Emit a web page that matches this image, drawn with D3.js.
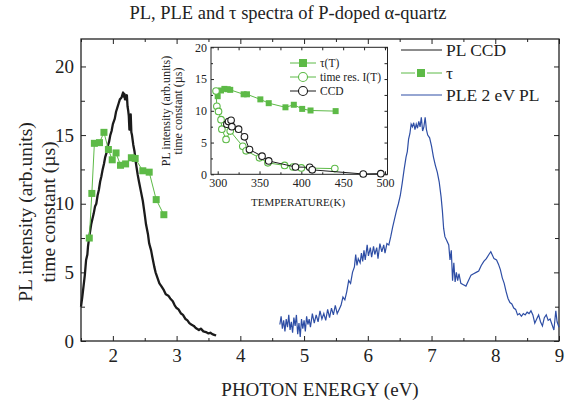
<!DOCTYPE html>
<html>
<head>
<meta charset="utf-8">
<script src="https://cdn.jsdelivr.net/npm/d3@7"></script>
<style>
  body { margin: 0; background: #fff; }
  text { font-family: "Liberation Serif", "Times New Roman", serif; fill: #222; }
</style>
</head>
<body>
<svg id="chart" width="565" height="400"></svg>
<script>
// ---- data ----
// PL CCD spectrum (eV, arb. units)
const plX = [1.50,1.52,1.53,1.55,1.56,1.58,1.60,1.61,1.63,1.64,1.66,1.67,1.70,1.72,1.74,1.76,1.78,1.80,1.82,1.84,1.86,1.88,1.90,1.92,1.94,1.96,1.98,2.00,2.03,2.05,2.07,2.09,2.11,2.13,2.14,2.16,2.17,2.18,2.19,2.20,2.21,2.22,2.23,2.24,2.25,2.26,2.27,2.28,2.29,2.30,2.32,2.34,2.36,2.39,2.41,2.44,2.47,2.50,2.52,2.55,2.57,2.60,2.62,2.65,2.67,2.70,2.73,2.76,2.80,2.83,2.87,2.90,2.94,2.97,3.00,3.03,3.07,3.10,3.14,3.17,3.20,3.23,3.27,3.30,3.35,3.38,3.42,3.46,3.50,3.53,3.56,3.59,3.62];
const plY = [2.5,3.2,3.6,4.4,4.8,5.9,6.3,6.9,7.6,7.9,8.5,8.7,9.3,9.8,10.0,10.6,11.0,11.6,12.0,12.5,12.9,13.4,13.7,14.2,14.5,15.0,15.3,15.8,16.2,16.7,17.0,17.3,17.6,17.7,17.8,18.1,17.8,18.0,17.6,17.9,17.6,17.9,17.1,16.8,16.4,15.4,16.2,16.5,15.2,15.0,14.3,13.8,13.0,12.1,11.6,10.9,10.2,9.2,8.5,7.8,7.1,6.6,6.1,5.4,5.0,4.6,4.2,4.0,3.7,3.4,3.3,3.1,2.9,2.6,2.4,2.3,2.0,1.9,1.6,1.5,1.3,1.2,1.1,0.95,0.8,0.9,0.7,0.65,0.55,0.6,0.5,0.45,0.4];

// tau vs photon energy (eV, microseconds)
const tauX = [1.63,1.67,1.71,1.79,1.86,1.93,1.99,2.05,2.12,2.20,2.29,2.35,2.47,2.57,2.68,2.80];
const tauY = [7.5,10.75,14.4,14.45,15.2,13.95,13.2,13.7,12.8,12.9,13.35,13.3,12.4,12.3,10.3,9.2];

// PLE of the 2 eV PL (eV, arb. units)
const pleX = [4.62,4.64,4.66,4.68,4.70,4.72,4.74,4.76,4.78,4.80,4.82,4.84,4.86,4.88,4.90,4.92,4.94,4.96,4.98,5.00,5.02,5.04,5.06,5.08,5.10,5.13,5.16,5.19,5.22,5.25,5.28,5.31,5.34,5.37,5.40,5.43,5.46,5.49,5.52,5.55,5.58,5.61,5.64,5.67,5.70,5.73,5.76,5.79,5.81,5.83,5.85,5.88,5.90,5.92,5.94,5.96,5.99,6.01,6.04,6.06,6.09,6.11,6.14,6.16,6.19,6.22,6.25,6.27,6.30,6.33,6.36,6.39,6.42,6.45,6.48,6.51,6.54,6.57,6.60,6.62,6.64,6.66,6.68,6.70,6.72,6.74,6.76,6.78,6.80,6.82,6.84,6.86,6.88,6.90,6.92,6.94,6.97,7.00,7.03,7.06,7.09,7.12,7.15,7.17,7.19,7.21,7.24,7.27,7.29,7.31,7.33,7.35,7.37,7.39,7.41,7.43,7.46,7.50,7.54,7.58,7.62,7.66,7.70,7.74,7.78,7.82,7.86,7.90,7.93,7.95,7.98,8.02,8.05,8.08,8.11,8.14,8.17,8.20,8.23,8.26,8.29,8.32,8.35,8.38,8.41,8.44,8.47,8.50,8.53,8.56,8.59,8.62,8.65,8.68,8.71,8.74,8.77,8.80,8.83,8.86,8.89,8.92,8.95,8.97,9.00];
const pleY = [1.2,1.8,0.9,1.5,0.7,1.6,1.0,1.9,0.8,1.4,0.6,1.7,1.1,1.9,0.5,1.3,0.3,1.6,0.9,1.5,0.7,1.8,1.2,1.6,1.0,2.0,1.3,1.9,1.4,2.2,1.6,2.0,1.5,2.3,1.7,2.4,1.9,2.6,2.0,2.3,2.6,3.2,3.0,3.6,4.4,4.2,5.0,5.4,6.3,5.5,6.0,5.7,6.4,5.8,6.6,5.9,7.0,6.2,6.8,6.1,6.9,6.3,6.8,6.0,7.1,6.5,7.0,6.4,7.1,7.0,7.6,8.3,8.9,9.5,10.0,10.6,11.5,12.5,13.4,13.8,14.7,15.1,15.8,15.6,15.9,15.4,15.8,15.5,16.0,15.6,16.3,15.3,15.6,16.3,15.4,15.0,14.8,14.2,13.4,12.8,12.3,11.6,10.5,9.5,8.2,7.6,7.3,7.0,5.9,6.6,4.4,5.7,4.3,5.0,4.4,4.9,4.2,4.1,4.0,4.4,4.8,4.9,5.0,5.1,5.5,5.8,6.0,6.3,6.5,6.3,6.0,5.9,5.6,5.2,4.6,4.2,3.6,3.1,2.8,2.7,2.4,2.3,1.9,2.0,1.8,2.0,1.9,2.1,2.0,2.2,1.9,1.3,1.6,1.9,1.4,1.1,1.7,1.9,1.5,1.6,1.2,0.8,2.2,1.4,1.0];

// inset: temperature dependence (K)
const insTauT = [300,304,308,312,315,331,335,351,361,381,391,401,411,441];
const insTauV = [12.3,13.2,13.45,13.4,13.3,12.6,12.6,11.8,11.2,10.55,10.95,10.3,10.05,9.95];
const insResT = [298,299,301,304,305,310,315,330,334,350,360,380,390,400,440];
const insResV = [13.1,10.7,9.9,8.6,7.1,5.5,6.8,4.4,3.7,2.6,1.8,1.4,1.15,1.0,0.9];
const insCcdT = [311,313,316,317,325,332,338,353,361,393,410,413,474,495];
const insCcdV = [7.9,8.3,8.5,7.5,7.1,5.9,3.9,2.85,2.1,1.15,1.1,0.7,0.05,0.1];

// tick labels
const xTicks = [2,3,4,5,6,7,8,9];
const yTicks = [0,5,10,15,20];
const insXTicks = [300,350,400,450,500];
const insYTicks = [0,5,10,15,20];

const GREEN = "#5dba47", BLUE = "#2e4ea5", BLACK = "#1b1b1b";

const svg = d3.select("#chart");
svg.append("rect").attr("width", 565).attr("height", 400).attr("fill", "#fff");

// ---- main plot ----
const x = d3.scaleLinear().domain([1.5, 9]).range([81, 559]);
const y = d3.scaleLinear().domain([0, 22]).range([341, 39]);

const xMinor = d3.range(1.5, 9.01, 0.5).filter(d => d % 1 !== 0);
const yMinor = d3.range(2.5, 22, 5);

function styleAxis(g, size) {
  g.select(".domain").remove();
  g.selectAll("line").attr("stroke", "#222").attr("stroke-width", 1);
  g.selectAll("text").style("font-size", size + "px")
    .style("font-family", '"Liberation Serif", serif').attr("fill", "#222");
}

svg.append("g").attr("transform", "translate(0,341)")
  .call(d3.axisBottom(x).tickValues(xTicks).tickSize(-5).tickPadding(8).tickFormat(d3.format("d")))
  .call(g => styleAxis(g, 19));
svg.append("g").attr("transform", "translate(0,341)")
  .call(d3.axisBottom(x).tickValues(xMinor).tickSize(-3).tickFormat(""))
  .call(g => styleAxis(g, 19));
svg.append("g").attr("transform", "translate(0,39)")
  .call(d3.axisTop(x).tickValues(xTicks).tickSize(-5).tickFormat(""))
  .call(g => styleAxis(g, 19));
svg.append("g").attr("transform", "translate(0,39)")
  .call(d3.axisTop(x).tickValues(xMinor).tickSize(-3).tickFormat(""))
  .call(g => styleAxis(g, 19));
svg.append("g").attr("transform", "translate(81,0)")
  .call(d3.axisLeft(y).tickValues(yTicks).tickSize(-5).tickPadding(7).tickFormat(d3.format("d")))
  .call(g => styleAxis(g, 19));
svg.append("g").attr("transform", "translate(81,0)")
  .call(d3.axisLeft(y).tickValues(yMinor).tickSize(-4).tickFormat(""))
  .call(g => styleAxis(g, 19));
svg.append("g").attr("transform", "translate(559,0)")
  .call(d3.axisRight(y).tickValues(yTicks).tickSize(-5).tickFormat(""))
  .call(g => styleAxis(g, 19));
svg.append("g").attr("transform", "translate(559,0)")
  .call(d3.axisRight(y).tickValues(yMinor).tickSize(-4).tickFormat(""))
  .call(g => styleAxis(g, 19));

svg.append("rect").attr("x", 81).attr("y", 39).attr("width", 478).attr("height", 302)
  .attr("fill", "none").attr("stroke", "#222").attr("stroke-width", 1.3);

const line = d3.line().x(d => x(d[0])).y(d => y(d[1]));

svg.append("path").datum(d3.zip(plX, plY)).attr("d", line)
  .attr("fill", "none").attr("stroke", BLACK).attr("stroke-width", 2.3).attr("stroke-linejoin", "round");
svg.append("path").datum(d3.zip(pleX, pleY)).attr("d", line)
  .attr("fill", "none").attr("stroke", BLUE).attr("stroke-width", 1.2);
svg.append("path").datum(d3.zip(tauX, tauY)).attr("d", line)
  .attr("fill", "none").attr("stroke", GREEN).attr("stroke-width", 1);
svg.append("g").selectAll("rect").data(d3.zip(tauX, tauY)).enter().append("rect")
  .attr("x", d => x(d[0]) - 3.5).attr("y", d => y(d[1]) - 3.5)
  .attr("width", 7).attr("height", 7).attr("fill", GREEN);

// main legend
const leg = svg.append("g");
leg.append("line").attr("x1", 401).attr("x2", 442).attr("y1", 50).attr("y2", 50).attr("stroke", BLACK).attr("stroke-width", 1);
leg.append("line").attr("x1", 401).attr("x2", 415).attr("y1", 73).attr("y2", 73).attr("stroke", GREEN).attr("stroke-width", 1);
leg.append("line").attr("x1", 427).attr("x2", 442).attr("y1", 73).attr("y2", 73).attr("stroke", GREEN).attr("stroke-width", 1);
leg.append("rect").attr("x", 417).attr("y", 69).attr("width", 8).attr("height", 8).attr("fill", GREEN);
leg.append("line").attr("x1", 401).attr("x2", 442).attr("y1", 95).attr("y2", 95).attr("stroke", BLUE).attr("stroke-width", 1.2);
leg.selectAll("text").data(["PL CCD", "τ", "PLE 2 eV PL"]).enter().append("text")
  .attr("x", 446).attr("y", (d, i) => [50, 73, 95][i]).attr("dy", "0.35em")
  .style("font-size", "17.5px").text(d => d);

// titles
svg.append("text").attr("x", 288).attr("y", 19).attr("text-anchor", "middle")
  .style("font-size", "18.5px").text("PL, PLE and τ spectra of P-doped α-quartz");
svg.append("text").attr("x", 320).attr("y", 396).attr("text-anchor", "middle")
  .style("font-size", "19px").text("PHOTON ENERGY (eV)");
svg.append("text").attr("transform", "translate(25,212) rotate(-90)").attr("text-anchor", "middle")
  .attr("dy", "0.35em").style("font-size", "19.5px").text("PL intensity (arb.units)");
svg.append("text").attr("transform", "translate(48,212) rotate(-90)").attr("text-anchor", "middle")
  .attr("dy", "0.35em").style("font-size", "19.5px").text("time constant (µs)");

// ---- inset ----
const ix = d3.scaleLinear().domain([292, 503]).range([211, 387.5]);
const iy = d3.scaleLinear().domain([0, 20]).range([174.3, 47.3]);
const ixMinor = [325, 375, 425, 475];
const iyMinor = [2.5, 7.5, 12.5, 17.5];

svg.append("rect").attr("x", 211).attr("y", 47.3).attr("width", 176.5).attr("height", 127)
  .attr("fill", "#fff");

svg.append("g").attr("transform", "translate(0,174.3)")
  .call(d3.axisBottom(ix).tickValues(insXTicks).tickSize(-3).tickPadding(4).tickFormat(d3.format("d")))
  .call(g => styleAxis(g, 12));
svg.append("g").attr("transform", "translate(0,174.3)")
  .call(d3.axisBottom(ix).tickValues(ixMinor).tickSize(-2).tickFormat(""))
  .call(g => styleAxis(g, 12));
svg.append("g").attr("transform", "translate(0,47.3)")
  .call(d3.axisTop(ix).tickValues(insXTicks.concat(ixMinor)).tickSize(-3).tickFormat(""))
  .call(g => styleAxis(g, 12));
svg.append("g").attr("transform", "translate(211,0)")
  .call(d3.axisLeft(iy).tickValues(insYTicks).tickSize(-3).tickPadding(4).tickFormat(d3.format("d")))
  .call(g => styleAxis(g, 12));
svg.append("g").attr("transform", "translate(211,0)")
  .call(d3.axisLeft(iy).tickValues(iyMinor).tickSize(-2).tickFormat(""))
  .call(g => styleAxis(g, 12));
svg.append("g").attr("transform", "translate(387.5,0)")
  .call(d3.axisRight(iy).tickValues(insYTicks.concat(iyMinor)).tickSize(-3).tickFormat(""))
  .call(g => styleAxis(g, 12));

svg.append("rect").attr("x", 211).attr("y", 47.3).attr("width", 176.5).attr("height", 127)
  .attr("fill", "none").attr("stroke", "#222").attr("stroke-width", 1);

const iline = d3.line().x(d => ix(d[0])).y(d => iy(d[1]));

svg.append("path").datum(d3.zip(insTauT, insTauV)).attr("d", iline)
  .attr("fill", "none").attr("stroke", GREEN).attr("stroke-width", 1);
svg.append("g").selectAll("rect").data(d3.zip(insTauT, insTauV)).enter().append("rect")
  .attr("x", d => ix(d[0]) - 3).attr("y", d => iy(d[1]) - 3)
  .attr("width", 6).attr("height", 6).attr("fill", GREEN);

svg.append("path").datum(d3.zip(insResT, insResV)).attr("d", iline)
  .attr("fill", "none").attr("stroke", GREEN).attr("stroke-width", 1);
svg.append("g").selectAll("circle").data(d3.zip(insResT, insResV)).enter().append("circle")
  .attr("cx", d => ix(d[0])).attr("cy", d => iy(d[1])).attr("r", 3.3)
  .attr("fill", "#fff").attr("stroke", GREEN).attr("stroke-width", 1.1);

svg.append("path").datum(d3.zip(insCcdT, insCcdV)).attr("d", iline)
  .attr("fill", "none").attr("stroke", BLACK).attr("stroke-width", 1);
svg.append("g").selectAll("circle").data(d3.zip(insCcdT, insCcdV)).enter().append("circle")
  .attr("cx", d => ix(d[0])).attr("cy", d => iy(d[1])).attr("r", 3.3)
  .attr("fill", "#fff").attr("stroke", BLACK).attr("stroke-width", 1.1);

// inset legend
const ileg = svg.append("g");
const rowsY = [63, 77, 91];
ileg.append("line").attr("x1", 290).attr("x2", 316).attr("y1", rowsY[0]).attr("y2", rowsY[0]).attr("stroke", GREEN);
ileg.append("rect").attr("x", 299).attr("y", rowsY[0] - 4).attr("width", 8).attr("height", 8).attr("fill", GREEN);
ileg.append("line").attr("x1", 290).attr("x2", 316).attr("y1", rowsY[1]).attr("y2", rowsY[1]).attr("stroke", GREEN);
ileg.append("circle").attr("cx", 303).attr("cy", rowsY[1]).attr("r", 4.5).attr("fill", "#fff").attr("stroke", GREEN).attr("stroke-width", 1.1);
ileg.append("line").attr("x1", 290).attr("x2", 316).attr("y1", rowsY[2]).attr("y2", rowsY[2]).attr("stroke", BLACK);
ileg.append("circle").attr("cx", 303).attr("cy", rowsY[2]).attr("r", 4.5).attr("fill", "#fff").attr("stroke", BLACK).attr("stroke-width", 1.1);
ileg.selectAll("text").data(["τ(T)", "time res. I(T)", "CCD"]).enter().append("text")
  .attr("x", 320).attr("y", (d, i) => rowsY[i]).attr("dy", "0.35em")
  .style("font-size", "11.5px").text(d => d);

svg.append("text").attr("x", 298).attr("y", 206).attr("text-anchor", "middle")
  .style("font-size", "11px").text("TEMPERATURE(K)");
svg.append("text").attr("transform", "translate(166,111) rotate(-90)").attr("text-anchor", "middle")
  .attr("dy", "0.35em").style("font-size", "12px").text("PL intensity (arb.units)");
svg.append("text").attr("transform", "translate(178,111) rotate(-90)").attr("text-anchor", "middle")
  .attr("dy", "0.35em").style("font-size", "12px").text("time constant (µs)");
</script>
</body>
</html>
